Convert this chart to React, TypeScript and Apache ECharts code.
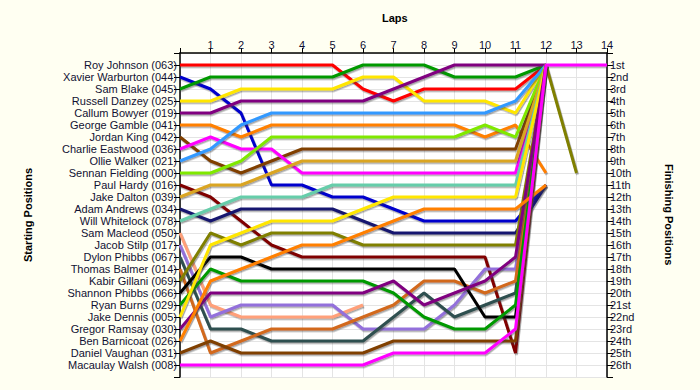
import React, { useEffect, useRef } from "react";
import * as echarts from "echarts";

const drivers = [
  "Roy Johnson (063)", "Xavier Warburton (044)", "Sam Blake (045)", "Russell Danzey (025)",
  "Callum Bowyer (019)", "George Gamble (041)", "Jordan King (042)", "Charlie Eastwood (036)",
  "Ollie Walker (021)", "Sennan Fielding (000)", "Paul Hardy (016)", "Jake Dalton (039)",
  "Adam Andrews (034)", "Will Whitelock (078)", "Sam Macleod (050)", "Jacob Stilp (017)",
  "Dylon Phibbs (067)", "Thomas Balmer (014)", "Kabir Gillani (069)", "Shannon Phibbs (066)",
  "Ryan Burns (029)", "Jake Dennis (005)", "Gregor Ramsay (030)", "Ben Barnicoat (026)",
  "Daniel Vaughan (031)", "Macaulay Walsh (008)",
];

const colors = [
  "#FF0000", "#0000CC", "#009900", "#FFE600", "#800080", "#FF8000", "#804000", "#FF00FF",
  "#3399FF", "#80E800", "#800000", "#DAA520", "#191970", "#66CDAA", "#FFA07A", "#9370DB",
  "#2F4F4F", "#D2691E", "#808000", "#000000", "#009900", "#FFE600", "#800080", "#FF8000",
  "#804000", "#FF00FF",
];

// positions by lap, index = lap number (0 = start)
const roy = [1, 1, 1, 1, 1, 1, 3, 4, 3, 3, 3, 3, 1];
const xavier = [2, 3, 5, 11, 11, 12, 12, 13, 14, 14, 14, 14, 11];
const samBlake = [3, 2, 2, 2, 2, 2, 1, 1, 1, 2, 2, 2, 1];
const russell = [4, 4, 3, 3, 3, 3, 2, 2, 4, 4, 4, 5, 1];
const callum = [5, 5, 4, 4, 4, 4, 4, 3, 2, 1, 1, 1, 1];
const george = [6, 6, 7, 6, 6, 6, 6, 6, 6, 6, 7, 6, 10];
const jordan = [7, 9, 10, 9, 8, 8, 8, 8, 8, 8, 8, 8, 1];
const charlie = [8, 7, 8, 8, 10, 10, 10, 10, 10, 10, 10, 10, 1];
const ollie = [9, 8, 6, 5, 5, 5, 5, 5, 5, 5, 5, 4, 1];
const sennan = [10, 10, 9, 7, 7, 7, 7, 7, 7, 7, 6, 7, 1];
const paul = [11, 12, 14, 16, 17, 17, 17, 17, 17, 17, 17, 25, 1];
const jakeDalton = [12, 11, 11, 10, 9, 9, 9, 9, 9, 9, 9, 9, 1];
const adam = [13, 14, 13, 13, 13, 13, 14, 15, 15, 15, 15, 15, 11];
const will = [14, 13, 12, 12, 12, 11, 11, 11, 11, 11, 11, 11, 1];
const samMacleod = [15, 21, 22, 22, 22, 22, 21];
const jacob = [16, 22, 21, 21, 21, 21, 23, 23, 23, 21, 18, 18, 1];
const dylon = [17, 23, 23, 24, 24, 24, 24, 22, 20, 22, 21, 20, 1];
const thomas = [18, 25, 24, 23, 23, 23, 22, 21, 19, 19, 20, 19, 1];
const kabir = [19, 15, 16, 15, 15, 15, 16, 16, 16, 16, 16, 16, 1, 10];
const shannon = [20, 17, 17, 18, 18, 18, 18, 18, 18, 18, 22, 22, 1];
const ryan = [21, 18, 19, 19, 19, 19, 19, 20, 22, 23, 23, 21, 1];
const jakeDennis = [22, 16, 15, 14, 14, 14, 13, 12, 12, 12, 12, 12, 1];
const gregor = [23, 20, 20, 20, 20, 20, 20, 19, 21, 20, 19, 17, 1];
const ben = [24, 19, 18, 17, 16, 16, 15, 14, 13, 13, 13, 13, 11];
const daniel = [25, 24, 25, 25, 25, 25, 25, 24, 24, 24, 24, 24, 1];
const macaulay = [26, 26, 26, 26, 26, 26, 26, 25, 25, 25, 25, 23, 1, 1, 1];

const positions = [
  roy, xavier, samBlake, russell, callum, george, jordan, charlie, ollie, sennan, paul,
  jakeDalton, adam, will, samMacleod, jacob, dylon, thomas, kabir, shannon, ryan,
  jakeDennis, gregor, ben, daniel, macaulay,
];

const finishLabels = [
  "1st", "2nd", "3rd", "4th", "5th", "6th", "7th", "8th", "9th", "10th", "11th", "12th",
  "13th", "14th", "15th", "16th", "17th", "18th", "19th", "20th", "21st", "22nd", "23rd",
  "24th", "25th", "26th",
];

const FONT = "'Liberation Sans', Arial, sans-serif";
const LABEL_COLOR = "#111133";

export default function App() {
  const ref = useRef<HTMLDivElement>(null);
  useEffect(() => {
    if (!ref.current) return;
    const chart = echarts.init(ref.current, undefined, { renderer: "svg" });
    const series = positions.map((arr, i) => ({
      type: "line",
      name: drivers[i],
      data: arr.map((p, lap) => [lap, p]),
      symbol: "none",
      yAxisIndex: 0,
      lineStyle: {
        width: 3,
        color: colors[i],
        shadowColor: "rgba(60,60,60,0.45)",
        shadowOffsetX: 1,
        shadowOffsetY: 1.5,
        shadowBlur: 0,
      },
      itemStyle: { color: colors[i] },
      z: 2,
    }));
    const yBase = {
      type: "value",
      min: 0,
      max: 27,
      interval: 1,
      inverse: true,
      axisLine: { show: true, onZero: false, lineStyle: { color: "#000", width: 1.5 } },
      axisTick: { show: true, length: 6, inside: false, lineStyle: { color: "#000" } },
      splitLine: { show: true, lineStyle: { color: "#E4E4E4", width: 1 } },
    };
    chart.setOption({
      animation: false,
      backgroundColor: "#FFFFF2",
      grid: { left: 180, top: 53, width: 427, height: 324, backgroundColor: "#FFFFFF", show: true, borderWidth: 0 },
      graphic: [
        { type: "text", left: 382, top: 12, style: { text: "Laps", font: `bold 11px ${FONT}`, fill: "#000" } },
        {
          type: "text", x: 22, y: 262, rotation: Math.PI / 2,
          style: { text: "Starting Positions", font: `bold 11px ${FONT}`, fill: "#000" },
        },
        {
          type: "text", x: 674, y: 164, rotation: -Math.PI / 2,
          style: { text: "Finishing Positions", font: `bold 11px ${FONT}`, fill: "#000" },
        },
      ],
      xAxis: {
        type: "value",
        position: "top",
        min: 0,
        max: 14,
        interval: 1,
        axisLine: { show: true, onZero: false, lineStyle: { color: "#000", width: 1.5 } },
        axisTick: { show: true, length: 5, lineStyle: { color: "#000" } },
        axisLabel: {
          margin: 3,
          fontFamily: FONT,
          fontSize: 11,
          color: LABEL_COLOR,
          formatter: (v: number) => (v === 0 ? "" : String(v)),
        },
        splitLine: { show: true, lineStyle: { color: "#E4E4E4", width: 1 } },
      },
      yAxis: [
        {
          ...yBase,
          position: "left",
          axisLabel: {
            margin: 3,
            fontFamily: FONT,
            fontSize: 11,
            color: LABEL_COLOR,
            formatter: (v: number) => (v >= 1 && v <= 26 ? drivers[v - 1] : ""),
          },
        },
        {
          ...yBase,
          position: "right",
          splitLine: { show: false },
          axisLabel: {
            margin: 3,
            fontFamily: FONT,
            fontSize: 11,
            color: LABEL_COLOR,
            formatter: (v: number) => (v >= 1 && v <= 26 ? finishLabels[v - 1] : ""),
          },
        },
      ],
      series,
    });
    return () => chart.dispose();
  }, []);
  return <div ref={ref} style={{ width: 700, height: 390, position: "absolute", left: 0, top: 0 }} />;
}
